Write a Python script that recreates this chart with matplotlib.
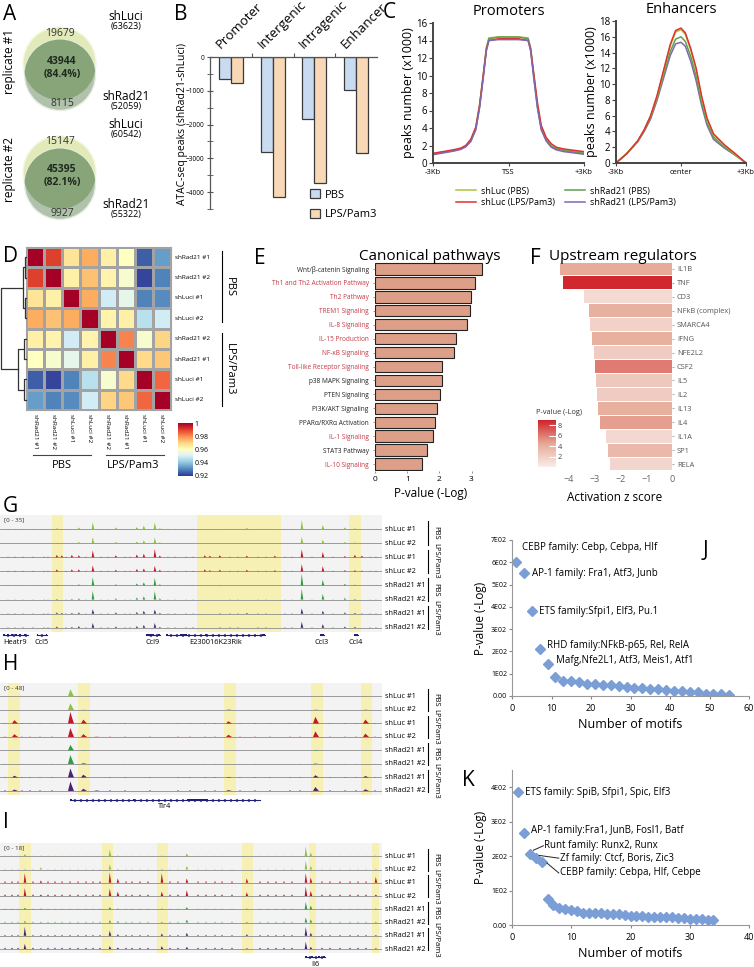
import numpy as np
import matplotlib
matplotlib.use('Agg')
import matplotlib.pyplot as plt
import matplotlib.patches as mpatches
import matplotlib.transforms as mtransforms
from matplotlib.colors import LinearSegmentedColormap
from matplotlib.cm import ScalarMappable
from matplotlib.lines import Line2D

plt.rcParams['font.family'] = ['Open Sans', 'DejaVu Sans']

# ---------------- data ----------------
# A: venn counts (only shLuci, both, only shRad21), totals, overlap %
venn1_counts = [19679, 43944, 8115]
venn1_totals = [63623, 52059]
venn1_pct = 84.4
venn2_counts = [15147, 45395, 9927]
venn2_totals = [60542, 55322]
venn2_pct = 82.1

# B: ATAC-seq peak differences
b_cats = ['Promoter', 'Intergenic', 'Intragenic', 'Enhancer']
b_pbs = [-660, -2820, -1840, -980]
b_lps = [-780, -4130, -3730, -2840]

# C: aggregate profiles (x in kb)
prom_x = [-3, -2.6, -2.2, -1.9, -1.7, -1.5, -1.3, -1.15, -1.0, -0.88, -0.78, -0.4, 0,
          0.4, 0.78, 0.88, 1.0, 1.15, 1.3, 1.5, 1.7, 1.9, 2.2, 2.6, 3]
prom_luc_pbs = [1.1, 1.25, 1.45, 1.65, 1.95, 2.6, 4.0, 6.6, 10.2, 13.2, 14.3, 14.4, 14.4,
                14.4, 14.3, 13.2, 10.2, 6.6, 4.1, 2.7, 2.0, 1.7, 1.5, 1.35, 1.2]
prom_rad_pbs = [1.0, 1.2, 1.4, 1.6, 1.9, 2.5, 3.9, 6.4, 10.0, 13.0, 14.2, 14.4, 14.4,
                14.4, 14.2, 13.0, 10.0, 6.4, 3.9, 2.6, 1.9, 1.6, 1.4, 1.25, 1.1]
prom_luc_lps = [1.1, 1.3, 1.5, 1.7, 2.0, 2.7, 4.1, 6.6, 10.1, 13.0, 14.0, 14.2, 14.2,
                14.2, 14.0, 13.0, 10.3, 6.9, 4.3, 2.9, 2.2, 1.8, 1.6, 1.45, 1.3]
prom_rad_lps = [0.95, 1.15, 1.35, 1.55, 1.85, 2.45, 3.8, 6.3, 9.8, 12.8, 14.0, 14.1, 14.1,
                14.1, 14.0, 12.8, 9.8, 6.3, 3.8, 2.5, 1.8, 1.5, 1.3, 1.15, 1.0]

enh_x = [-3, -2.5, -2, -1.7, -1.4, -1.1, -0.8, -0.5, -0.25, 0, 0.2, 0.45, 0.7, 0.95,
         1.2, 1.5, 2.0, 2.5, 3]
enh_luc_pbs = [0, 1.2, 2.8, 4.2, 6.0, 8.5, 11.6, 14.8, 16.6, 16.9, 16.3, 14.3, 11.8, 8.3,
               5.6, 3.6, 2.3, 1.1, 0]
enh_rad_pbs = [0, 1.2, 2.7, 4.1, 5.8, 8.2, 11.2, 14.1, 15.7, 16.0, 15.4, 13.5, 11.0, 7.7,
               5.1, 3.3, 2.0, 1.0, 0]
enh_luc_lps = [0, 1.2, 2.8, 4.2, 6.0, 8.6, 11.8, 15.0, 16.8, 17.1, 16.5, 14.5, 12.0, 8.5,
               5.7, 3.7, 2.3, 1.2, 0]
enh_rad_lps = [0, 1.2, 2.7, 4.0, 5.6, 8.0, 10.8, 13.6, 15.1, 15.3, 14.8, 12.9, 10.4, 7.3,
               4.8, 3.0, 1.9, 1.0, 0]

# D: correlation heatmap
d_labels = ['shRad21 #1', 'shRad21 #2', 'shLuci #1', 'shLuci #2',
            'shRad21 #2', 'shRad21 #1', 'shLuci #1', 'shLuci #2']
d_corr = [
    [1.000, 0.990, 0.967, 0.976, 0.964, 0.960, 0.925, 0.934],
    [0.990, 1.000, 0.964, 0.973, 0.963, 0.958, 0.922, 0.930],
    [0.967, 0.964, 1.000, 0.976, 0.950, 0.954, 0.930, 0.931],
    [0.976, 0.973, 0.976, 1.000, 0.963, 0.964, 0.946, 0.950],
    [0.964, 0.963, 0.950, 0.963, 1.000, 0.981, 0.958, 0.970],
    [0.960, 0.958, 0.954, 0.964, 0.981, 1.000, 0.969, 0.972],
    [0.925, 0.922, 0.930, 0.946, 0.958, 0.969, 1.000, 0.985],
    [0.934, 0.930, 0.931, 0.950, 0.970, 0.972, 0.985, 1.000],
]
# dendrogram merges (left id, right id, height); ids >= 8 are earlier merges
d_links = [(0, 1, 1.5), (2, 3, 1.2), (4, 5, 1.6), (6, 7, 2.0), (8, 9, 3.0), (10, 11, 8.0), (12, 13, 25.5)]

# E: canonical pathways
e_paths = ['Wnt/β-catenin Signaling', 'Th1 and Th2 Activation Pathway', 'Th2 Pathway',
           'TREM1 Signaling', 'IL-8 Signaling', 'IL-15 Production', 'NF-κB Signaling',
           'Toll-like Receptor Signaling', 'p38 MAPK Signaling', 'PTEN Signaling',
           'PI3K/AKT Signaling', 'PPARα/RXRα Activation', 'IL-1 Signaling',
           'STAT3 Pathway', 'IL-10 Signaling']
e_vals = [3.33, 3.12, 2.98, 2.95, 2.87, 2.52, 2.46, 2.08, 2.07, 2.01, 1.92, 1.87, 1.79, 1.63, 1.45]
e_inflam = [False, True, True, True, True, True, True, True, False, False, False, False, True, False, True]

# F: upstream regulators
f_regs = ['IL1B', 'TNF', 'CD3', 'NFkB (complex)', 'SMARCA4', 'IFNG', 'NFE2L2', 'CSF2',
          'IL5', 'IL2', 'IL13', 'IL4', 'IL1A', 'SP1', 'RELA']
f_z = [-4.35, -4.22, -3.42, -3.23, -3.18, -3.10, -3.03, -3.0, -2.97, -2.92, -2.88, -2.81,
       -2.58, -2.48, -2.40]
f_p = [4.3, 8.8, 1.2, 4.0, 1.8, 4.0, 2.2, 6.0, 2.4, 2.2, 4.0, 4.8, 1.4, 3.4, 1.6]

# G/H/I: genome browser tracks
track_names = ['shLuc #1', 'shLuc #2', 'shLuc #1', 'shLuc #2',
               'shRad21 #1', 'shRad21 #2', 'shRad21 #1', 'shRad21 #2']
track_groups = ['PBS', 'LPS/Pam3', 'PBS', 'LPS/Pam3']

g_peak_pos = [57, 62, 72, 79, 93, 116, 137, 144, 155, 160, 205, 210, 220, 247, 275,
              302, 323, 345, 355, 362]
g_peak_h = [
    [2, 1, 6, 5, 1, 2, 3, 3], [0, 0, 5, 0, 0, 0, 2, 0], [0, 0, 6, 5, 1, 2, 2, 2],
    [4, 3, 5, 5, 3, 3, 3, 4], [17, 15, 17, 15, 20, 22, 11, 12], [4, 3, 5, 4, 3, 3, 3, 3],
    [5, 4, 7, 6, 5, 5, 4, 4], [9, 7, 9, 7, 8, 8, 7, 7], [17, 14, 21, 14, 19, 21, 10, 12],
    [2, 2, 4, 4, 3, 3, 2, 2], [0, 0, 5, 5, 0, 0, 0, 0], [0, 0, 4, 3, 0, 0, 0, 0],
    [0, 0, 5, 4, 1, 0, 1, 1], [3, 0, 4, 4, 0, 0, 2, 0], [0, 0, 4, 3, 0, 0, 0, 0],
    [22, 16, 20, 18, 29, 27, 13, 15], [10, 9, 13, 13, 14, 14, 7, 9], [4, 3, 3, 3, 4, 4, 3, 3],
    [2, 2, 6, 3, 2, 2, 2, 2], [0, 0, 4, 2, 0, 0, 1, 0]]
g_bg_pos = [8, 15, 23, 33, 44, 48, 66, 86, 101, 108, 125, 130, 168, 175, 186, 193, 230,
            238, 258, 266, 285, 292, 312, 333, 370, 376]
g_bg_h = [0.8, 0.6, 1.6, 1.6, 0.8, 0.8, 1.0, 1.2]
g_highlights = [(52, 63), (197, 281), (349, 361)]
g_genes = [('Heatr9', 3, 28, [(3, 5), (7, 9), (11, 13), (15, 17), (19, 21), (24, 26)]),
           ('Ccl5', 37, 47, [(37, 38), (46, 47)]),
           ('Ccl9', 146, 160, [(146, 154), (158, 160)]),
           ('E230016K23Rik', 166, 265, [(166, 168), (180, 187), (205, 207), (262, 265)]),
           ('Ccl3', 320, 324, [(320, 324)]),
           ('Ccl4', 354, 358, [(354, 358)])]

h_peak_pos = [15, 71, 84, 97, 229, 316, 366]
h_peak_h = [
    [0, 0, 12, 10, 0, 0, 6, 5], [26, 24, 41, 32, 20, 32, 32, 34], [0, 1, 14, 10, 1, 4, 10, 8],
    [0, 0, 1, 1, 0, 0, 0, 2], [0, 3, 8, 8, 0, 0, 2, 3], [0, 2, 24, 20, 2, 2, 8, 14],
    [0, 2, 14, 12, 0, 0, 5, 6]]
h_bg_pos = [5, 22, 30, 40, 52, 110, 125, 150, 178, 190, 205, 215, 240, 255, 270, 290,
            300, 330, 345, 356, 375]
h_bg_h = [0.0, 0.0, 1.5, 1.5, 0.0, 0.5, 1.5, 3.0]
h_highlights = [(8, 20), (78, 90), (224, 236), (311, 323), (361, 372)]
h_genes = [('Tlr4', 70, 260, [(70, 72), (133, 135), (187, 208)])]

i_peak_pos = [25, 41, 110, 118, 162, 187, 247, 306, 311, 376]
i_peak_h = [
    [3, 1, 13, 11, 2, 2, 12, 7], [1, 3, 3, 2, 1, 1, 1, 1], [9, 7, 14, 10, 3, 3, 7, 4],
    [1, 1, 6, 6, 1, 2, 2, 2], [1, 1, 13, 6, 1, 1, 3, 4], [4, 5, 6, 8, 3, 4, 4, 3],
    [0, 0, 6, 5, 1, 1, 2, 1], [13, 12, 13, 13, 10, 7, 12, 10], [5, 5, 7, 7, 5, 4, 4, 3],
    [1, 1, 8, 2, 1, 1, 1, 1]]
i_bg_pos = [5, 12, 18, 33, 48, 55, 62, 70, 78, 86, 93, 100, 126, 132, 140, 148, 170, 178,
            198, 206, 215, 222, 232, 260, 268, 276, 284, 292, 322, 330, 340, 350, 358, 366]
i_bg_h = [0.8, 0.8, 2.5, 2.5, 0.8, 1.2, 1.4, 2.0]
i_highlights = [(19, 31), (102, 113), (157, 168), (242, 253), (309, 316), (372, 379)]
i_genes = [('Il6', 305, 325, [(305, 307), (311, 313), (318, 320), (323, 325)])]

# J, K: motif enrichment
j_x = [1, 3, 5, 7, 9, 11, 13, 15, 17, 19, 21, 23, 25, 27, 29, 31, 33, 35, 37, 39, 41, 43,
       45, 47, 49, 51, 53, 55]
j_y = [600, 550, 380, 212, 143, 85, 68, 67, 63, 56, 55, 51, 50, 46, 41, 36, 35, 31, 30,
       26, 23, 22, 19, 18, 8, 7, 7, 6]
k_x = list(range(1, 35))
k_y = [385, 267, 206, 195, 184, 76, 57, 49, 46, 45, 40, 36, 36, 35, 34, 33, 31, 31, 30,
       26, 26, 25, 24, 23, 23, 22, 22, 21, 20, 18, 18, 17, 14, 14]

# ---------------- figure ----------------
W, H = 754, 967
fig = plt.figure(figsize=(W / 100, H / 100), dpi=100)
fig.patch.set_facecolor('white')


def px_axes(l, t, r, b):
    return fig.add_axes([l / W, 1 - b / H, (r - l) / W, (b - t) / H])


def ftext(x, y, s, **kw):
    return fig.text(x / W, 1 - y / H, s, **kw)


for letter, (lx, ly) in {'A': (3, 14), 'B': (174, 14), 'C': (383, 12), 'D': (3, 257),
                         'E': (254, 258), 'F': (530, 258), 'G': (3, 506), 'H': (3, 664),
                         'I': (3, 822), 'J': (703, 551), 'K': (462, 781)}.items():
    ftext(lx, ly, letter, fontsize=15, va='center', ha='left')

# ---- A: venn diagrams ----
ax = px_axes(0, 0, 190, 230)
ax.set_xlim(0, 190)
ax.set_ylim(230, 0)
ax.set_aspect('equal')
ax.axis('off')


def venn(ycen, counts, totals, pct, rep):
    top = mpatches.Circle((59.5, ycen - 5.5), 36.5, fc='#e1eab8', ec='#f4f7e4', lw=1)
    bot = mpatches.Circle((60, ycen + 6), 35.5, fc='#b0c2ab', ec='#e8eee6', lw=1)
    ax.add_patch(top)
    ax.add_patch(bot)
    mid = mpatches.Circle((59.5, ycen - 5.5), 36.5, fc='#88a579', ec='none')
    ax.add_patch(mid)
    mid.set_clip_path(bot)
    ax.text(60, ycen - 36, f'{counts[0]}', ha='center', va='center', fontsize=7.5, color='#333')
    ax.text(62, ycen - 8, f'{counts[1]}', ha='center', va='center', fontsize=7.5,
            fontweight='bold', color='#1e2a1e')
    ax.text(62, ycen + 5, f'({pct}%)', ha='center', va='center', fontsize=7.5,
            fontweight='bold', color='#1e2a1e')
    ax.text(62, ycen + 35, f'{counts[2]}', ha='center', va='center', fontsize=7.5, color='#333')
    ax.text(126, ycen - 53, 'shLuci', ha='center', va='center', fontsize=8.5)
    ax.text(126, ycen - 43, f'({totals[0]})', ha='center', va='center', fontsize=6.5)
    ax.text(126, ycen + 27, 'shRad21', ha='center', va='center', fontsize=8.5)
    ax.text(126, ycen + 37, f'({totals[1]})', ha='center', va='center', fontsize=6.5)
    ax.text(9, ycen - 8, f'replicate #{rep}', rotation=90, ha='center', va='center', fontsize=8.5)


venn(69, venn1_counts, venn1_totals, venn1_pct, 1)
venn(178, venn2_counts, venn2_totals, venn2_pct, 2)
ax.set_xlim(0, 190)
ax.set_ylim(230, 0)

# ---- B: bars ----
ax = px_axes(210, 57, 377, 209)
xi = np.arange(len(b_cats))
ax.bar(xi + 0.5 - 0.145, b_pbs, 0.29, color='#c9dbf0', edgecolor='#3a3a3a', lw=0.9, label='PBS')
ax.bar(xi + 0.5 + 0.145, b_lps, 0.29, color='#f8d8b6', edgecolor='#3a3a3a', lw=0.9, label='LPS/Pam3')
ax.set_xlim(0, 4)
ax.set_ylim(-4500, 0)
for s in ['bottom', 'right']:
    ax.spines[s].set_visible(False)
for s in ['top', 'left']:
    ax.spines[s].set_color('#555')
    ax.spines[s].set_linewidth(0.9)
ax.xaxis.tick_top()
ax.set_xticks([1, 2, 3])
ax.set_xticklabels([])
ax.tick_params(axis='x', length=3, color='#555')
ax.set_yticks([0, -1000, -2000, -3000, -4000])
ax.set_yticks(np.arange(-4500, 0, 500), minor=True)
ax.tick_params(axis='y', which='both', labelsize=4.7, length=4, direction='inout', color='#555', pad=2)
for i, c in enumerate(b_cats):
    ax.annotate(c, xy=(i + 0.5, 0), xytext=(-6, 4), textcoords='offset points', rotation=45,
                rotation_mode='anchor', ha='left', va='bottom', fontsize=9.5)
ftext(182, 124, 'ATAC-seq peaks (shRad21-shLuci)', rotation=90, ha='center', va='center', fontsize=7.5)
ax.legend(loc='lower left', bbox_to_anchor=(0.54, -0.14), frameon=False, fontsize=8,
          handlelength=0.9, handleheight=0.9, labelspacing=0.75, handletextpad=0.4)

# ---- C: profiles ----
c_cols = {'luc_pbs': '#a9c43c', 'rad_pbs': '#5e9f50', 'luc_lps': '#e0312f', 'rad_lps': '#8366b0'}


def profile_ax(ax, x, series, ymax, xlabels, title):
    for ys, col in series:
        ax.plot(x, ys, color=col, lw=1.1)
    ax.set_xlim(-3, 3)
    ax.set_ylim(0, ymax)
    ax.set_yticks(np.arange(0, ymax + 1, 2))
    ax.set_xticks([-3, 0, 3])
    ax.set_xticklabels(xlabels)
    ax.tick_params(axis='y', labelsize=7, length=3, pad=1, color='#444')
    ax.tick_params(axis='x', labelsize=5.5, length=2, pad=2, color='#444')
    for s in ['top', 'right']:
        ax.spines[s].set_visible(False)
    for s in ['left', 'bottom']:
        ax.spines[s].set_linewidth(1.4)
        ax.spines[s].set_color('#444')
    ax.set_ylabel('peaks number (x1000)', fontsize=9, labelpad=1)
    ax.set_title(title, fontsize=10.5, pad=6)


ax = px_axes(433, 23, 584, 163)
profile_ax(ax, prom_x, [(prom_luc_pbs, c_cols['luc_pbs']), (prom_rad_pbs, c_cols['rad_pbs']),
                        (prom_luc_lps, c_cols['luc_lps']), (prom_rad_lps, c_cols['rad_lps'])],
           16, ['-3Kb', 'TSS', '+3Kb'], 'Promoters')
ax = px_axes(616, 21, 746, 163)
profile_ax(ax, enh_x, [(enh_rad_lps, c_cols['rad_lps']), (enh_rad_pbs, c_cols['rad_pbs']),
                       (enh_luc_pbs, c_cols['luc_pbs']), (enh_luc_lps, c_cols['luc_lps'])],
           18, ['-3Kb', 'center', '+3Kb'], 'Enhancers')
handles = [Line2D([], [], color=c_cols[k], lw=1.1) for k in ['luc_pbs', 'luc_lps', 'rad_pbs', 'rad_lps']]
fig.legend(handles, ['shLuc (PBS)', 'shLuc (LPS/Pam3)', 'shRad21 (PBS)', 'shRad21 (LPS/Pam3)'],
           ncol=2, loc='center', bbox_to_anchor=(566 / W, 1 - 197 / H), frameon=False,
           fontsize=6.5, handlelength=2.2, columnspacing=1.2, labelspacing=0.3, handletextpad=0.5)

# ---- D: heatmap ----
ax = px_axes(26, 247, 171, 410)
mesh = ax.pcolormesh(np.array(d_corr), cmap='RdYlBu_r', vmin=0.92, vmax=1.0,
                     edgecolors='#a3a3a3', linewidth=0.9)
ax.set_xticks([])
ax.set_yticks([])
for s in ax.spines.values():
    s.set_color('#a3a3a3')
for i, lab in enumerate(d_labels):
    ax.text(8.2, i + 0.5, lab, fontsize=4.6, va='center', ha='left')
    ax.text(i + 0.5, 8.2, lab, fontsize=4.6, va='top', ha='center', rotation=270)
ax.plot([10.8, 10.8], [0.2, 3.7], color='k', lw=0.8, clip_on=False)
ax.text(11.2, 1.95, 'PBS', rotation=270, fontsize=8, ha='center', va='center')
ax.plot([10.8, 10.8], [4.2, 7.8], color='k', lw=0.8, clip_on=False)
ax.text(11.2, 6.0, 'LPS/Pam3', rotation=270, fontsize=8, ha='center', va='center')
ax.plot([0.4, 3.6], [10.2, 10.2], color='#444', lw=0.8, clip_on=False)
ax.text(2.0, 10.7, 'PBS', fontsize=8, ha='center', va='center')
ax.plot([4.4, 7.6], [10.2, 10.2], color='#444', lw=0.8, clip_on=False)
ax.text(5.9, 10.7, 'LPS/Pam3', fontsize=8, ha='center', va='center')
ax.set_xlim(0, 8)
ax.set_ylim(8, 0)

cax = px_axes(178, 423, 193, 476)
cb = fig.colorbar(mesh, cax=cax, ticks=[0.92, 0.94, 0.96, 0.98, 1.0])
cb.ax.set_yticklabels(['0.92', '0.94', '0.96', '0.98', '1'])
cb.ax.tick_params(labelsize=5, length=0, pad=1)
cb.outline.set_visible(False)

# dendrogram
dax = px_axes(0, 247, 26, 410)
node_y = {i: i + 0.5 for i in range(8)}
node_h = {i: 0.0 for i in range(8)}
for n, (a, b, hgt) in enumerate(d_links):
    dax.plot([node_h[a], hgt, hgt, node_h[b]], [node_y[a], node_y[a], node_y[b], node_y[b]],
             color='#333', lw=0.9, clip_on=False)
    node_y[8 + n] = (node_y[a] + node_y[b]) / 2
    node_h[8 + n] = hgt
dax.set_xlim(26, 0)
dax.set_ylim(8, 0)
dax.axis('off')

# ---- E: canonical pathways ----
ax = px_axes(375, 262, 486, 471)
ye = np.arange(len(e_paths))
ax.barh(ye, e_vals, 0.82, color='#dd9f88', edgecolor='#222', lw=0.8)
ax.set_ylim(len(e_paths) - 0.5, -0.5)
ax.set_xlim(0, 3.45)
for s in ax.spines.values():
    s.set_visible(False)
ax.set_yticks(ye)
ax.set_yticklabels(e_paths, fontsize=4.7)
for t, red in zip(ax.get_yticklabels(), e_inflam):
    t.set_color('#c43a45' if red else '#222')
ax.tick_params(axis='y', length=1.5, width=0.5, pad=3, color='#666')
ax.set_xticks([0, 1, 2, 3])
ax.tick_params(axis='x', labelsize=6, length=1.5, width=0.5, pad=2, color='#666')
ax.set_xlabel('P-value (-Log)', fontsize=8.5, labelpad=3)
ftext(430, 256, 'Canonical pathways', fontsize=11, ha='center', va='center')

# ---- F: upstream regulators ----
f_cmap = LinearSegmentedColormap.from_list('pv', ['#f8ede9', '#e6a896', '#d0222a'])
ax = px_axes(557, 262, 672, 471)
yf = np.arange(len(f_regs))
ax.barh(yf, f_z, 0.92, color=[f_cmap(p / 9.0) for p in f_p], edgecolor='none')
ax.set_ylim(len(f_regs) - 0.5, -0.5)
ax.set_xlim(-4.47, 0)
for s in ax.spines.values():
    s.set_visible(False)
ax.yaxis.tick_right()
ax.set_yticks(yf)
ax.set_yticklabels(f_regs, fontsize=5.3, color='#555')
ax.tick_params(axis='y', length=1.5, width=0.5, pad=2, color='#888')
ax.set_xticks([-4, -3, -2, -1, 0])
ax.tick_params(axis='x', labelsize=6.5, length=0, pad=3, labelcolor='#666')
ax.set_xlabel('Activation z score', fontsize=8.5, labelpad=5)
ftext(623, 256, 'Upstream regulators', fontsize=11, ha='center', va='center')
fcax = px_axes(538, 420, 556, 467)
cbf = fig.colorbar(ScalarMappable(cmap=f_cmap, norm=plt.Normalize(0, 9)), cax=fcax, ticks=[2, 4, 6, 8])
cbf.ax.tick_params(labelsize=5.3, length=5, color='white', direction='in', pad=1, labelcolor='#444')
cbf.outline.set_visible(False)
ftext(536, 413, 'P-value (-Log)', fontsize=5.3, ha='left', va='center', color='#333')

# ---- G/H/I: genome tracks ----
track_cols = ['#8dc43f', '#8dc43f', '#c0172a', '#c0172a', '#2f9d3b', '#2f9d3b', '#4a2370', '#4a2370']


def tracks(top, bot, span, pos, hts, bg_pos, bg_h, hw, highlights, rng, genes, gene_y):
    ax = px_axes(0, top, 382, bot)
    ax.set_xlim(0, 382)
    ax.set_ylim(-8 * span - span * 0.3, 0)
    ax.axis('off')
    ax.add_patch(mpatches.Rectangle((0, -8 * span - span * 0.3), 382, 8 * span + span * 0.3,
                                    fc='#f3f3f3', ec='none', zorder=0))
    for a, b in highlights:
        ax.axvspan(a, b, color='#f6f0b4', zorder=1, lw=0)
    tr = mtransforms.blended_transform_factory(fig.transFigure, ax.transData)
    for k in range(8):
        base = -(k + 1) * span
        ax.axhline(base, color='#8c8c8c', lw=0.6, zorder=2)
        for p in bg_pos:
            if bg_h[k] > 0:
                ax.fill([p - 0.9, p, p + 0.9], [base, base + bg_h[k], base], color=track_cols[k],
                        lw=0, zorder=3)
        for p, h in zip(pos, hts):
            if h[k] > 0:
                ax.fill([p - hw, p - hw * 0.2, p + hw * 0.3, p + hw],
                        [base, base + h[k], base + h[k] * 0.55, base], color=track_cols[k],
                        lw=0, zorder=3)
        ax.text(385 / W, base, track_names[k], transform=tr, fontsize=5.3, va='center', ha='left')
    ax.text(4, -span * 0.35, rng, fontsize=4.5, va='center', ha='left', color='#333')
    for g, name in enumerate(track_groups):
        y0 = -(2 * g + 1) * span + span * 0.55
        y1 = -(2 * g + 2) * span - span * 0.1
        ax.plot([428 / W, 428 / W], [y0, y1], color='k', lw=0.8, transform=tr, clip_on=False)
        ax.text(436 / W, (y0 + y1) / 2, name, rotation=270, fontsize=5.5, ha='center',
                va='center', transform=tr)
    ax.set_xlim(0, 382)
    ax.set_ylim(-8 * span - span * 0.3, 0)
    # genes
    gax = px_axes(0, bot, 382, bot + 18)
    for name, s, e, exons in genes:
        gax.plot([s, e], [gene_y, gene_y], color='#1d1d7a', lw=0.8)
        arrows = np.arange(s + 3, e - 1, 6)
        gax.plot(arrows, [gene_y] * len(arrows), marker=4, ls='none', ms=2, color='#1d1d7a', mew=0.5)
        for a, b in exons:
            gax.add_patch(mpatches.Rectangle((a, gene_y - 1.3), b - a, 2.6, fc='#1d1d7a', ec='none'))
        gax.text((s + e) / 2, gene_y + 7, name, fontsize=5.3, ha='center', va='center')
    gax.set_xlim(0, 382)
    gax.set_ylim(18, 0)
    gax.axis('off')


tracks(515, 632, 35, g_peak_pos, g_peak_h, g_bg_pos, g_bg_h, 1.3, g_highlights, '[0 - 35]',
       g_genes, 3)
tracks(683, 795, 48, h_peak_pos, h_peak_h, h_bg_pos, h_bg_h, 3.0, h_highlights, '[0 - 48]',
       h_genes, 5)
tracks(843, 953, 18, i_peak_pos, i_peak_h, i_bg_pos, i_bg_h, 1.3, i_highlights, '[0 - 18]',
       i_genes, 4)

# ---- J / K: motifs ----


def motif_ax(ax, x, y, xmax, ymax, xstep, ylabs):
    ax.plot(x, y, 'D', color='#7a9ed5', ms=5.5, mec='#7a9ed5')
    ax.set_xlim(0, xmax)
    ax.set_ylim(0, ymax)
    ax.set_xticks(np.arange(0, xmax + 1, xstep))
    ax.set_yticks(np.arange(0, len(ylabs)) * 100)
    ax.set_yticklabels(ylabs)
    ax.tick_params(axis='y', labelsize=5, length=2.5, color='#888', pad=1)
    ax.tick_params(axis='x', labelsize=6.5, length=2.5, color='#888', pad=3)
    for s in ['top', 'right']:
        ax.spines[s].set_visible(False)
    for s in ['left', 'bottom']:
        ax.spines[s].set_color('#999')
    ax.set_ylabel('P-value (-Log)', fontsize=8.5, labelpad=3)
    ax.set_xlabel('Number of motifs', fontsize=9, labelpad=4)


ax = px_axes(512, 540, 749, 696)
motif_ax(ax, j_x, j_y, 60, 700, 10, ['0.00', '1E02', '2E02', '3E02', '4E02', '5E02', '6E02', '7E02'])
for tx, ty, s in [(2.6, 668, 'CEBP family: Cebp, Cebpa, Hlf'), (5.1, 549, 'AP-1 family: Fra1, Atf3, Junb'),
                  (6.9, 378, 'ETS family:Sfpi1, Elf3, Pu.1'), (8.9, 225, 'RHD family:NFkB-p65, Rel, RelA'),
                  (11.1, 159, 'Mafg,Nfe2L1, Atf3, Meis1, Atf1')]:
    ax.text(tx, ty, s, fontsize=7, va='center', ha='left', clip_on=False)

ax = px_axes(512, 770, 749, 925)
motif_ax(ax, k_x, k_y, 40, 450, 10, ['0.00', '1E02', '2E02', '3E02', '4E02'])
ax.set_ylim(0, 450)
ax.text(2.2, 385, 'ETS family: SpiB, Sfpi1, Spic, Elf3', fontsize=7, va='center', ha='left')
ax.text(3.2, 273, 'AP-1 family:Fra1, JunB, Fosl1, Batf', fontsize=7, va='center', ha='left')
for (x0, y0), (tx, ty), s in [((3.6, 217), (5.3, 230), 'Runt family: Runx2, Runx'),
                              ((4.6, 202), (7.9, 194), 'Zf family: Ctcf, Boris, Zic3'),
                              ((5.9, 180), (7.9, 151), 'CEBP family: Cebpa, Hlf, Cebpe')]:
    ax.plot([x0, tx], [y0, ty], color='#222', lw=0.7)
    ax.text(tx + 0.15, ty, s, fontsize=7, va='center', ha='left')

fig.savefig('out.png', dpi=100)
